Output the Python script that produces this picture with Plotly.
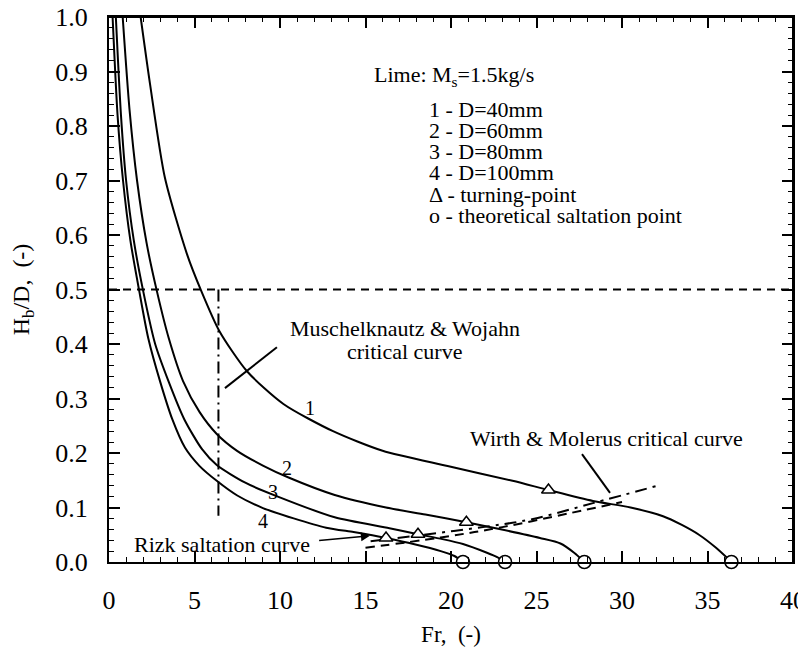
import plotly.graph_objects as go

FONT = "Liberation Serif, Times New Roman, serif"

# ---- data ----
c1_x = [1.85, 2.4, 3.27, 4.56, 5.4, 6.45, 8.07, 10.2, 13.1, 16.0, 19.8, 23.6, 25.7, 28.3, 30.5, 32.4, 33.5, 34.5, 35.5, 36.4]
c1_y = [1.0, 0.877, 0.705, 0.565, 0.497, 0.424, 0.35, 0.29, 0.24, 0.204, 0.176, 0.149, 0.132, 0.112, 0.10, 0.084, 0.068, 0.05, 0.026, 0.0]

c2_x = [0.8, 1.2, 1.64, 2.2, 2.8, 3.5, 4.33, 5.3, 6.3, 7.49, 9.0, 10.5, 13.2, 16.2, 18.5, 20.9, 22.9, 25.2, 26.4, 27.2, 27.8]
c2_y = [1.0, 0.83, 0.7, 0.585, 0.497, 0.41, 0.332, 0.275, 0.235, 0.204, 0.177, 0.155, 0.123, 0.1, 0.087, 0.073, 0.06, 0.044, 0.034, 0.017, 0.0]

c3_x = [0.4, 0.7, 1.0, 1.45, 2.0, 2.7, 3.5, 4.4, 5.44, 6.3, 8.0, 9.8, 13.2, 16.4, 18.07, 19.5, 20.7, 22.1, 22.7, 23.16]
c3_y = [1.0, 0.82, 0.7, 0.59, 0.497, 0.4, 0.33, 0.262, 0.207, 0.178, 0.145, 0.121, 0.082, 0.062, 0.051, 0.042, 0.033, 0.017, 0.009, 0.0]

c4_x = [0.21, 0.5, 0.82, 1.25, 1.77, 2.3, 3.0, 3.7, 4.44, 5.3, 6.3, 7.5, 9.0, 10.8, 12.7, 14.3, 15.4, 16.2, 17.8, 19.4, 20.2, 20.7]
c4_y = [1.0, 0.82, 0.7, 0.59, 0.497, 0.41, 0.33, 0.262, 0.21, 0.176, 0.149, 0.122, 0.099, 0.08, 0.063, 0.055, 0.049, 0.044, 0.033, 0.02, 0.011, 0.0]

curve_labels = ["1", "2", "3", "4"]
label_x = [11.75, 10.4, 9.6, 9.0]
label_y = [0.282, 0.172, 0.128, 0.075]

turning_x = [25.7, 20.9, 18.07, 16.2]
turning_y = [0.132, 0.073, 0.051, 0.044]
saltation_x = [36.4, 27.8, 23.16, 20.7]
saltation_y = [0.0, 0.0, 0.0, 0.0]

wirth_x = [15.3, 18.4, 22.3, 24.8, 28.3, 32.2]
wirth_y = [0.038, 0.05, 0.066, 0.079, 0.108, 0.141]
rizk_x = [15.0, 19.4, 23.0, 27.0, 30.0]
rizk_y = [0.026, 0.045, 0.064, 0.09, 0.11]

limit_h_x = [0, 40]
limit_h_y = [0.5, 0.5]
mw_x = [6.4, 6.4]
mw_y = [0.5, 0.085]

legend_lines = ["1 - D=40mm", "2 - D=60mm", "3 - D=80mm", "4 - D=100mm",
                "\u0394 - turning-point", "o - theoretical saltation point"]
legend_y = [0.831, 0.792, 0.753, 0.714, 0.675, 0.636]

x_ticks = [0, 5, 10, 15, 20, 25, 30, 35, 40]
y_ticks = [0.0, 0.1, 0.2, 0.3, 0.4, 0.5, 0.6, 0.7, 0.8, 0.9, 1.0]
x_range = [0, 40]
y_range = [0, 1]

fig = go.Figure()

for xs, ys in [(c1_x, c1_y), (c2_x, c2_y), (c3_x, c3_y), (c4_x, c4_y)]:
    fig.add_trace(go.Scatter(x=xs, y=ys, mode="lines",
                             line=dict(color="black", width=2, shape="spline", smoothing=0.7),
                             showlegend=False, hoverinfo="skip"))

fig.add_trace(go.Scatter(x=limit_h_x, y=limit_h_y, mode="lines",
                         line=dict(color="black", width=2, dash="8px,6px"), showlegend=False))
fig.add_trace(go.Scatter(x=mw_x, y=mw_y, mode="lines",
                         line=dict(color="black", width=2, dash="12px,5px,2px,5px"), showlegend=False))
fig.add_trace(go.Scatter(x=wirth_x, y=wirth_y, mode="lines",
                         line=dict(color="black", width=2, dash="12px,6px,3px,6px", shape="spline"), showlegend=False))
fig.add_trace(go.Scatter(x=rizk_x, y=rizk_y, mode="lines",
                         line=dict(color="black", width=2, dash="9px,6px", shape="spline"), showlegend=False))

# top and right frame sides drawn as unclipped line traces
fig.add_trace(go.Scatter(x=[x_range[0], x_range[1], x_range[1]], y=[y_range[1], y_range[1], y_range[0]],
                         mode="lines", cliponaxis=False, line=dict(color="black", width=2),
                         showlegend=False, hoverinfo="skip"))

fig.add_trace(go.Scatter(x=turning_x, y=turning_y, mode="markers",
                         marker=dict(symbol="triangle-up", size=12, color="white", line=dict(color="black", width=1.5)),
                         showlegend=False))
fig.add_trace(go.Scatter(x=saltation_x, y=saltation_y, mode="markers", cliponaxis=False,
                         marker=dict(symbol="circle", size=13, color="white", line=dict(color="black", width=1.5)),
                         showlegend=False))

ann_font = dict(family=FONT, size=22, color="black")
for t, lx, ly in zip(curve_labels, label_x, label_y):
    fig.add_annotation(x=lx, y=ly, text=t, showarrow=False, font=dict(family=FONT, size=20, color="black"))

fig.add_annotation(x=15.4, y=0.892, text="Lime: M<sub>s</sub>=1.5kg/s", showarrow=False, xanchor="left", font=ann_font)
for t, ly in zip(legend_lines, legend_y):
    fig.add_annotation(x=18.6, y=ly, text=t, showarrow=False, xanchor="left", font=ann_font)

fig.add_annotation(x=17.3, y=0.428, text="Muschelknautz &amp; Wojahn", showarrow=False, font=ann_font)
fig.add_annotation(x=17.3, y=0.387, text="critical curve", showarrow=False, font=ann_font)
fig.add_shape(type="line", x0=9.82, y0=0.394, x1=6.78, y1=0.319, line=dict(color="black", width=2))

fig.add_annotation(x=21.0, y=0.226, text="Wirth &amp; Molerus critical curve", showarrow=False, xanchor="left", font=ann_font)
fig.add_shape(type="line", x0=27.66, y0=0.198, x1=29.3, y1=0.127, line=dict(color="black", width=2))

fig.add_annotation(x=6.6, y=0.033, text="Rizk saltation curve", showarrow=False, font=ann_font)
fig.add_annotation(x=15.26, y=0.048, ax=12.2, ay=0.039, axref="x", ayref="y", text="",
                   showarrow=True, arrowhead=2, arrowsize=1.2, arrowwidth=1.5, arrowcolor="black")

axis_common = dict(showline=True, linewidth=2, linecolor="black", mirror="allticks",
                   ticks="inside", ticklen=11, tickwidth=1.5, tickcolor="black",
                   showgrid=False, zeroline=False, automargin=False,
                   ticklabeloverflow="allow",
                   tickfont=dict(family=FONT, size=26, color="black"))

fig.update_xaxes(range=x_range, tickvals=x_ticks, ticktext=[str(v) for v in x_ticks],
                 minor=dict(dtick=1, ticklen=5, tickwidth=1.2, tickcolor="black", ticks="inside", showgrid=False),
                 title=dict(text="Fr,  (-)", font=dict(family=FONT, size=23, color="black"), standoff=12),
                 ticklabelstandoff=14, **axis_common)
fig.update_yaxes(range=y_range, tickvals=y_ticks, ticktext=[f"{v:.1f}" for v in y_ticks],
                 minor=dict(dtick=0.02, ticklen=5, tickwidth=1.2, tickcolor="black", ticks="inside", showgrid=False),
                 title=dict(text="H<sub>b</sub>/D,  (-)", font=dict(family=FONT, size=24, color="black"), standoff=24),
                 ticklabelstandoff=14, **axis_common)

# the page adds an 8px body margin; margins are offset to compensate
fig.update_layout(width=806, height=649, autosize=False,
                  margin=dict(l=101, r=21, t=9, b=95),
                  paper_bgcolor="white", plot_bgcolor="white",
                  font=dict(family=FONT, color="black"))

fig.write_html("out.html")
